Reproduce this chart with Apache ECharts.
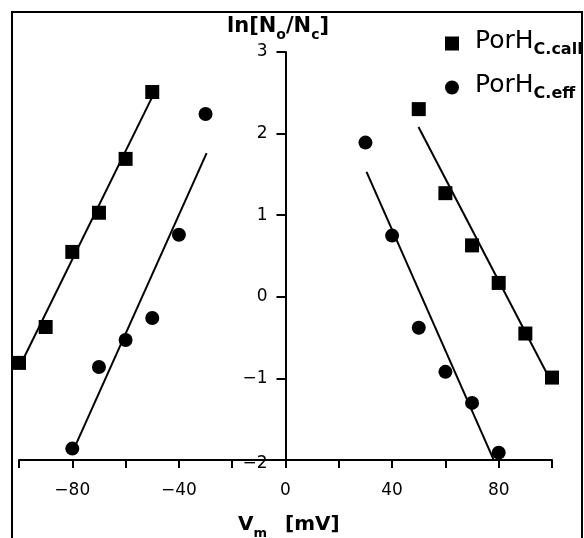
<!DOCTYPE html>
<html>
<head>
<meta charset="utf-8">
<script src="https://cdn.jsdelivr.net/npm/echarts@6/dist/echarts.min.js"></script>
<style>
  html, body { margin: 0; padding: 0; background: #fff; }
  #chart { width: 584px; height: 538px; }
</style>
</head>
<body>
<div id="chart"></div>
<script>
// measured points, ln[No/Nc] against Vm (mV)
const voltsCallLeft = [-100, -90, -80, -70, -60, -50]
const lnCallLeft = [-0.81, -0.37, 0.55, 1.03, 1.69, 2.51]
const voltsEffLeft = [-80, -70, -60, -50, -40, -30]
const lnEffLeft = [-1.86, -0.86, -0.53, -0.26, 0.76, 2.24]
const voltsCallRight = [50, 60, 70, 80, 90, 100]
const lnCallRight = [2.30, 1.27, 0.63, 0.17, -0.45, -0.99]
const voltsEffRight = [30, 40, 50, 60, 70, 80]
const lnEffRight = [1.89, 0.75, -0.38, -0.92, -1.30, -1.91]

// fitted lines, end points
const fitCallLeftX = [-100, -50]
const fitCallLeftY = [-0.87, 2.45]
const fitEffLeftX = [-78.8, -29.6]
const fitEffLeftY = [-1.82, 1.76]
const fitCallRightX = [49.9, 100]
const fitCallRightY = [2.08, -1.06]
const fitEffRightX = [30.4, 78]
const fitEffRightY = [1.53, -1.99]

const xTicks = [-80, -40, 0, 40, 80]

const FONT = 'DejaVu Sans'
const GRID_LEFT = 19
const GRID_RIGHT = 32
const zip = (xs, ys) => xs.map((x, i) => [x, ys[i]])
const minus = (v) => (v < 0 ? '\u2212' + Math.abs(v) : String(v))

const chart = echarts.init(document.getElementById('chart'))

// the y axis sits at Vm = 0, i.e. halfway across the grid
const yAxisOffset = -(584 - GRID_LEFT - GRID_RIGHT) / 2

const pointSeries = (name, symbol, size, xs, ys) => ({
  name: name,
  type: 'scatter',
  symbol: symbol,
  symbolSize: size,
  clip: false,
  itemStyle: { color: '#000', opacity: 1 },
  data: zip(xs, ys),
  z: 3
})

const fitSeries = (xs, ys) => ({
  type: 'line',
  showSymbol: false,
  silent: true,
  lineStyle: { color: '#000', width: 2 },
  data: zip(xs, ys),
  z: 2
})

const subNames = { 'PorH C.call': 'C.call', 'PorH C.eff': 'C.eff' }

const option = {
  backgroundColor: '#fff',
  animation: false,
  grid: { left: GRID_LEFT, right: GRID_RIGHT, top: 52, bottom: 78, outerBoundsMode: 'none' },
  legend: {
    orient: 'vertical',
    left: 440,
    top: 24,
    itemWidth: 14,
    itemHeight: 14,
    itemGap: 15,
    data: [
      { name: 'PorH C.call', icon: 'rect', itemStyle: { opacity: 1 } },
      { name: 'PorH C.eff', icon: 'circle', itemStyle: { opacity: 1 } }
    ],
    formatter: (name) => '{m|PorH}{s|' + subNames[name] + '}',
    textStyle: {
      color: '#000',
      rich: {
        m: { fontFamily: FONT, fontSize: 25, color: '#000', verticalAlign: 'bottom', padding: [0, 0, 4, 11] },
        s: { fontFamily: FONT, fontSize: 16, fontWeight: 'bold', color: '#000', verticalAlign: 'bottom' }
      }
    }
  },
  xAxis: {
    type: 'value',
    min: -100,
    max: 100,
    interval: 20,
    axisLine: { onZero: false, lineStyle: { color: '#000', width: 2 } },
    axisTick: { length: 8, lineStyle: { color: '#000', width: 2 } },
    axisLabel: {
      margin: 22,
      color: '#000',
      fontFamily: FONT,
      fontSize: 17,
      formatter: (v) => (xTicks.includes(v) ? minus(v) : '')
    },
    splitLine: { show: false }
  },
  yAxis: {
    type: 'value',
    position: 'left',
    offset: yAxisOffset,
    min: -2,
    max: 3,
    interval: 1,
    axisLine: { show: true, onZero: false, lineStyle: { color: '#000', width: 2 } },
    axisTick: { show: true, length: 9, lineStyle: { color: '#000', width: 2 } },
    axisLabel: {
      show: true,
      margin: 18,
      color: '#000',
      fontFamily: FONT,
      fontSize: 17,
      // the bottom label sits on the x axis line, as in the original
      formatter: (v) => (v === -2 ? '{low|' + minus(v) + '}' : minus(v)),
      rich: {
        low: { fontFamily: FONT, fontSize: 17, color: '#000', padding: [7, 0, 0, 0] }
      }
    },
    splitLine: { show: false }
  },
  graphic: [
    {
      type: 'rect',
      shape: { x: 12, y: 12, width: 570, height: 540 },
      style: { fill: 'none', stroke: '#000', lineWidth: 2 },
      silent: true
    },
    {
      type: 'text',
      left: 227,
      top: 16,
      style: {
        text: '{b|ln[N}{s|o}{b|/N}{s|c}{b|]}',
        rich: {
          b: { fontFamily: FONT, fontSize: 21, fontWeight: 'bold', fill: '#000', verticalAlign: 'bottom', padding: [0, 0, 5, 0] },
          s: { fontFamily: FONT, fontSize: 14, fontWeight: 'bold', fill: '#000', verticalAlign: 'bottom' }
        }
      }
    },
    {
      type: 'text',
      left: 238,
      top: 515,
      style: {
        text: '{b|V}{s|m}',
        rich: {
          b: { fontFamily: FONT, fontSize: 20, fontWeight: 'bold', fill: '#000', verticalAlign: 'bottom', padding: [0, 0, 5, 0] },
          s: { fontFamily: FONT, fontSize: 13, fontWeight: 'bold', fill: '#000', verticalAlign: 'bottom' }
        }
      }
    },
    {
      type: 'text',
      left: 285,
      top: 515,
      style: {
        text: '[mV]',
        font: 'bold 20px "DejaVu Sans"',
        fill: '#000'
      }
    }
  ],
  series: [
    fitSeries(fitCallLeftX, fitCallLeftY),
    fitSeries(fitEffLeftX, fitEffLeftY),
    fitSeries(fitCallRightX, fitCallRightY),
    fitSeries(fitEffRightX, fitEffRightY),
    pointSeries('PorH C.call', 'rect', 14, voltsCallLeft, lnCallLeft),
    pointSeries('PorH C.call', 'rect', 14, voltsCallRight, lnCallRight),
    pointSeries('PorH C.eff', 'circle', 14, voltsEffLeft, lnEffLeft),
    pointSeries('PorH C.eff', 'circle', 14, voltsEffRight, lnEffRight)
  ]
}

chart.setOption(option)
</script>
</body>
</html>
